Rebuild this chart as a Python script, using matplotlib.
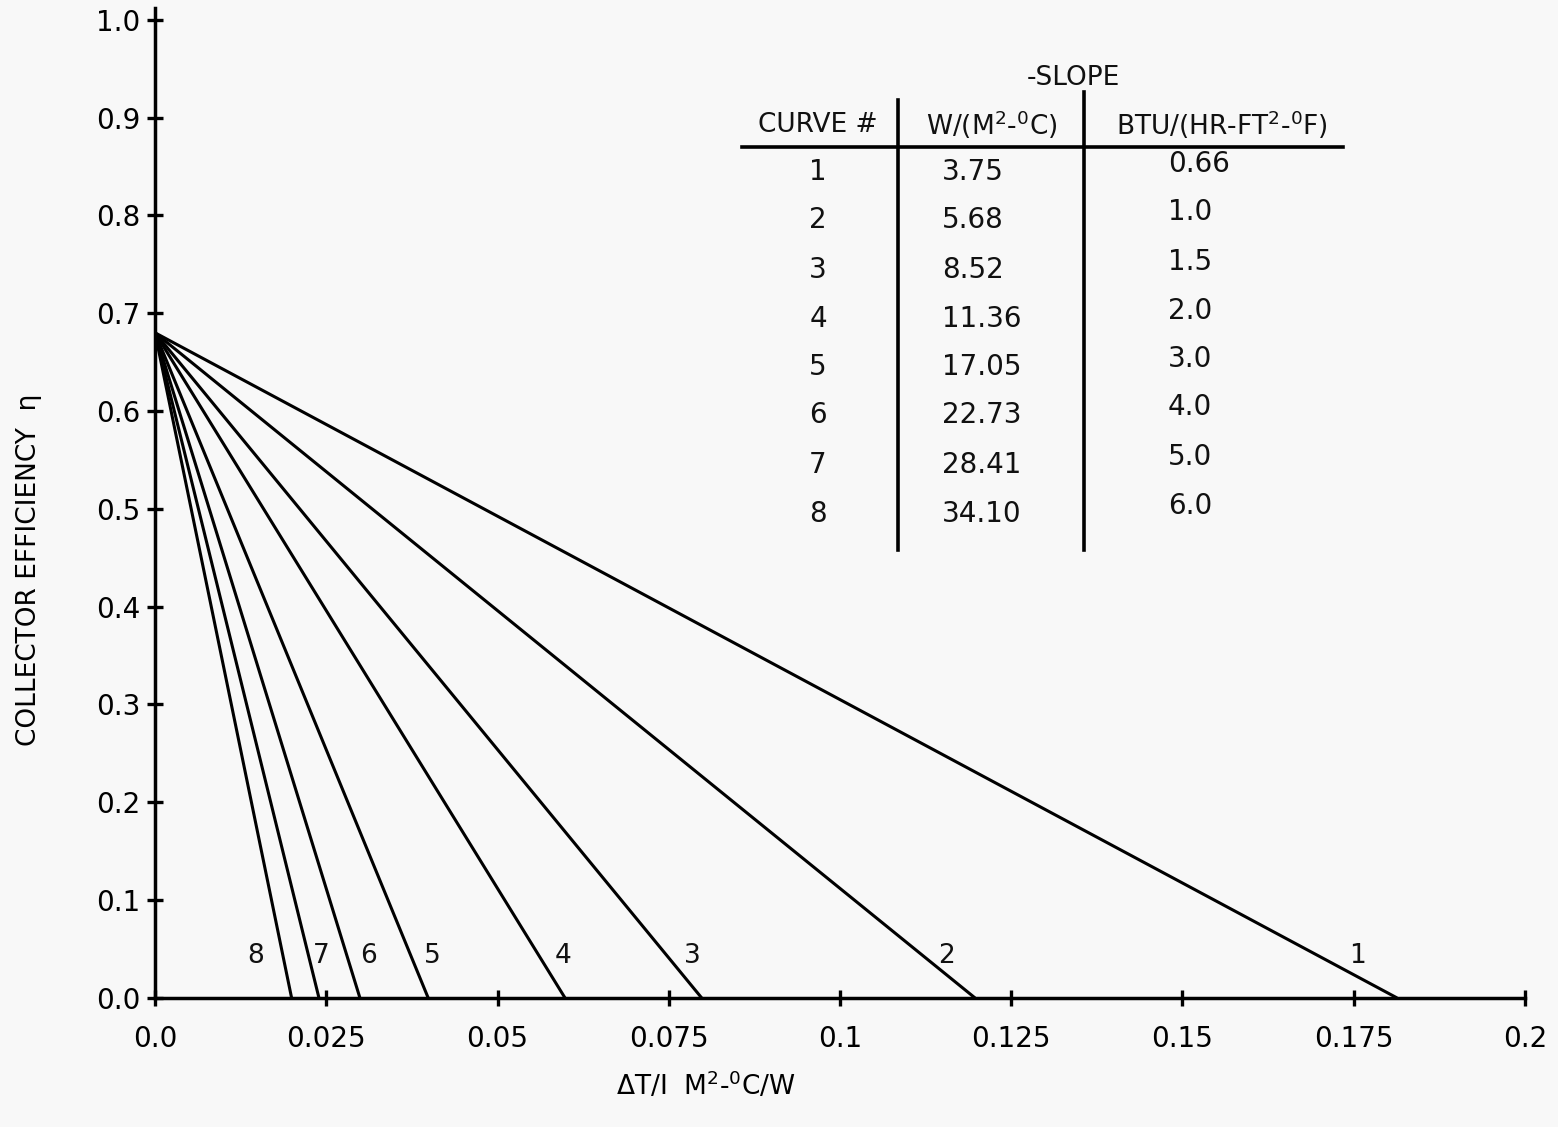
import matplotlib
matplotlib.use("Agg")
import matplotlib.pyplot as plt
import numpy             as np

# collector test curves: intercept and -slope for each curve
curveNumbers = ["1", "2", "3", "4", "5", "6", "7", "8"]
slopeSI      = [3.75, 5.68, 8.52, 11.36, 17.05, 22.73, 28.41, 34.10]
slopeUS      = ["0.66", "1.0", "1.5", "2.0", "3.0", "4.0", "5.0", "6.0"]
intercept    = 0.68

xTicks      = [0.0, 0.025, 0.05, 0.075, 0.1, 0.125, 0.15, 0.175, 0.2]
xTickLabels = ["0.0", "0.025", "0.05", "0.075", "0.1", "0.125", "0.15", "0.175", "0.2"]
yTicks      = [0.0, 0.1, 0.2, 0.3, 0.4, 0.5, 0.6, 0.7, 0.8, 0.9, 1.0]

# where each curve number is written, just above the x axis
labelX = [0.1755, 0.1155, 0.0785, 0.0595, 0.0405, 0.0312, 0.0242, 0.0147]
labelY = 0.043

plt.rcParams["font.family"]      = ["DejaVu Sans"]
plt.rcParams["mathtext.default"] = "regular"
plt.rcParams["text.color"]       = "#111111"

fig = plt.figure(figsize=(15.58, 11.27), dpi=100, facecolor="#f8f8f8")
ax  = fig.add_axes([0.0995, 0.1145, 0.8793, 0.8784])
ax.set_facecolor("none")

# straight efficiency lines from the intercept down to eta = 0
for num, slope in zip(curveNumbers, slopeSI):
    xEnd = intercept / slope
    ax.plot([0.0, xEnd], [intercept, 0.0], color="black", lw=2.2, solid_capstyle="butt")

for num, lx in zip(curveNumbers, labelX):
    ax.text(lx, labelY, num, fontsize=19, ha="center", va="center")

ax.set_xlim(0, 0.2)
ax.set_ylim(0, 1.012)

for side in ["top", "right"]:
    ax.spines[side].set_visible(False)
for side in ["left", "bottom"]:
    ax.spines[side].set_linewidth(2.5)

ax.set_xticks(xTicks)
ax.set_xticklabels(xTickLabels)
ax.set_yticks(yTicks)
ax.set_yticklabels(["%.1f" % v for v in yTicks])
ax.tick_params(axis="both", direction="inout", length=11, width=2.4, labelsize=20)
ax.tick_params(axis="x", pad=14)
ax.tick_params(axis="y", pad=5)

ax.set_xlabel("$\u0394$T/I  M$^2$-$^0$C/W", fontsize=19)
ax.xaxis.set_label_coords(0.4025, -0.073)
ax.set_ylabel("COLLECTOR EFFICIENCY  \u03b7", fontsize=19)
ax.yaxis.set_label_coords(-0.0825, 0.432)

# slope table in the upper right
def px(x):
    return (x - 155) / 1370 * 0.2

def py(y):
    return (998 - y) / 978

rowY = [172, 220, 270, 319, 367, 415, 465, 514]

ax.text(px(1073), py(78), "-SLOPE", fontsize=19, ha="center", va="center")
ax.text(px(818), py(125), "CURVE #", fontsize=19, ha="center", va="center")
ax.text(px(992), py(125), "W/(M$^2$-$^0$C)", fontsize=19, ha="center", va="center")
ax.text(px(1222), py(125), "BTU/(HR-FT$^2$-$^0$F)", fontsize=19, ha="center", va="center")

ax.plot([px(742), px(1343)], [py(147), py(147)], color="black", lw=2.6, clip_on=False)
ax.plot([px(898), px(898)], [py(100), py(550)], color="black", lw=2.6, clip_on=False)
ax.plot([px(1084), px(1084)], [py(92), py(550)], color="black", lw=2.6, clip_on=False)

for ry, num, s1, s2 in zip(rowY, curveNumbers, slopeSI, slopeUS):
    ax.text(px(818), py(ry), num, fontsize=20, ha="center", va="center")
    ax.text(px(942), py(ry), "%.2f" % s1, fontsize=20, ha="left", va="center")
    ax.text(px(1168), py(ry - 8), s2, fontsize=20, ha="left", va="center")

fig.savefig("out.png", dpi=100, facecolor=fig.get_facecolor())
